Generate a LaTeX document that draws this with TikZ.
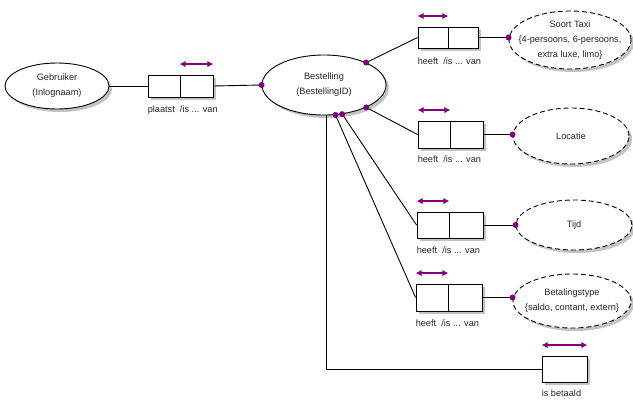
\documentclass[tikz,border=0pt]{standalone}
\usepackage{fontspec}
\setmainfont{Liberation Sans}
\usetikzlibrary{arrows.meta,shapes.geometric,shadows,calc}
\definecolor{vio}{RGB}{128,0,128}
\definecolor{shd}{RGB}{195,195,195}
\begin{document}
\begin{tikzpicture}[x=1pt,y=-1pt,
  every node/.style={font=\fontsize{9.2}{15}\selectfont, text=black!85},
  ent/.style={ellipse, draw, fill=white, line width=0.9pt, inner sep=0pt,
    drop shadow={shadow xshift=3pt, shadow yshift=-3pt, fill=shd, opacity=1}},
  attr/.style={ent, dash pattern=on 5pt off 3pt},
  etext/.style={inner sep=0pt, align=center},
  rolebox/.style={rectangle, draw, fill=white, line width=0.9pt, inner sep=0pt,
    drop shadow={shadow xshift=3pt, shadow yshift=-3pt, fill=shd, opacity=1}},
  dot/.style={circle, fill=vio, inner sep=0pt, minimum size=6pt},
  rolearr/.style={draw=vio, line width=1.3pt, arrows={Latex[length=6pt,width=6.5pt]-Latex[length=6pt,width=6.5pt]}},
  lbl/.style={inner sep=0pt, anchor=west},
  conn/.style={line width=0.9pt}
]
\useasboundingbox (0,0) rectangle (633,402);

% entities
\node[ent, minimum width=104pt, minimum height=46pt] (geb) at (57,86) {};
\node[etext] (gebT) at (geb.center) {Gebruiker\\(Inlognaam)};
\node[ent, minimum width=124pt, minimum height=60pt] (best) at (324,85) {};
\node[etext] (bestT) at (best.center) {Bestelling\\(BestellingID)};
\node[attr, minimum width=122pt, minimum height=58pt] (soort) at (570,40) {};
\node[etext] (soortT) at (soort.center) {Soort Taxi\\\{4-persoons, 6-persoons,\\extra luxe, limo\}};
\node[attr, minimum width=116pt, minimum height=56pt] (loc) at (571,136) {};
\node[etext] (locT) at (loc.center) {Locatie};
\node[attr, minimum width=116pt, minimum height=50pt] (tijd) at (574,225) {};
\node[etext] (tijdT) at (tijd.center) {Tijd};
\node[attr, minimum width=118pt, minimum height=54pt] (betal) at (572,301) {};
\node[etext] (betalT) at (betal.center) {Betalingstype\\\{saldo, contant, extern\}};

% role boxes
\node[rolebox, minimum width=32pt, minimum height=22pt] (pL) at (164,86) {};
\node[rolebox, minimum width=33pt, minimum height=22pt] (pR) at (196.5,86) {};
\node[rolebox, minimum width=30pt, minimum height=21pt] (sL) at (433,37.5) {};
\node[rolebox, minimum width=30pt, minimum height=21pt] (sR) at (463,37.5) {};
\node[rolebox, minimum width=32pt, minimum height=27pt] (lL) at (434,134.5) {};
\node[rolebox, minimum width=33pt, minimum height=27pt] (lR) at (466.5,134.5) {};
\node[rolebox, minimum width=32pt, minimum height=26pt] (tL) at (433,225) {};
\node[rolebox, minimum width=34pt, minimum height=26pt] (tR) at (466,225) {};
\node[rolebox, minimum width=32pt, minimum height=27pt] (bL) at (432,297.5) {};
\node[rolebox, minimum width=34pt, minimum height=27pt] (bR) at (465,297.5) {};
\node[rolebox, minimum width=45pt, minimum height=26pt] (isb) at (564.5,369) {};

% labels
\node[lbl] (pLab) at ([yshift=-13pt]pL.south west) {plaatst\ \ /is ... van};
\node[lbl] (sLab) at ([yshift=-13pt]sL.south west) {heeft\ \ /is ... van};
\node[lbl] (lLab) at ([yshift=-11pt]lL.south west) {heeft\ \ /is ... van};
\node[lbl] (tLab) at ([yshift=-12pt]tL.south west) {heeft\ \ /is ... van};
\node[lbl] (bLab) at ([yshift=-12pt]bL.south west) {heeft\ \ /is ... van};
\node[lbl] (iLab) at ([yshift=-11pt]isb.south west) {is betaald};

% role arrows
\draw[rolearr] ([yshift=10.5pt]pR.north west) -- ([yshift=10.5pt]pR.north east);
\draw[rolearr] ([yshift=10.5pt]sL.north west) -- ([yshift=10.5pt]sL.north east);
\draw[rolearr] ([yshift=10.5pt]lL.north west) -- ([yshift=10.5pt]lL.north east);
\draw[rolearr] ([yshift=10.5pt]tL.north west) -- ([yshift=10.5pt]tL.north east);
\draw[rolearr] ([yshift=10.5pt]bL.north west) -- ([yshift=10.5pt]bL.north east);
\draw[rolearr] ([yshift=10.5pt]isb.north west) -- ([yshift=10.5pt]isb.north east);

% connectors
\draw[conn] (geb.east) -- (pL.west);
\draw[conn] (pR.east) -- (best.west) node[dot] {};
\draw[conn] (best.28) node[dot] {} -- (sL.west);
\draw[conn] (sR.east) -- (soort.west |- sR.east) node[dot] {};
\draw[conn] (best.-28) node[dot] {} -- (lL.west);
\draw[conn] (lR.east) -- (loc.west |- lR.east) node[dot] {};
\draw[conn] (best.-58) node[dot] {} -- (tL.west);
\draw[conn] (tR.east) -- (tijd.west |- tR.east) node[dot] {};
\draw[conn] (best.-69) node[dot] {} -- (bL.west);
\draw[conn] (bR.east) -- (betal.west |- bR.east) node[dot] {};
\draw[conn] (best.-86) |- (isb.west);
\end{tikzpicture}
\end{document}
